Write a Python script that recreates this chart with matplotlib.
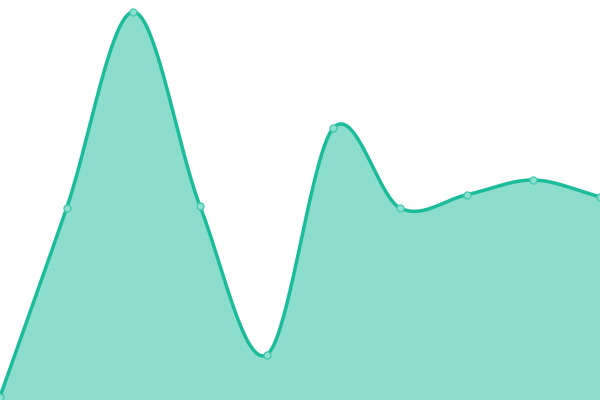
import numpy as np
import matplotlib
matplotlib.use("Agg")
import matplotlib.pyplot as plt

# values (0-100 scale)
x_idx = list(range(10))
values = [0.8, 48, 97, 48.5, 11.3, 68, 48, 51.3, 55, 50.8]

line_color = "#1abc9c"


def catmull_rom(xs, ys, n=40):
    xs = np.asarray(xs, float)
    ys = np.asarray(ys, float)
    # tangents: central differences, one-sided at the ends
    m = np.zeros_like(ys)
    m[1:-1] = (ys[2:] - ys[:-2]) / 2
    m[0] = ys[1] - ys[0]
    m[-1] = ys[-1] - ys[-2]
    out_x, out_y = [], []
    for i in range(len(xs) - 1):
        t = np.linspace(0, 1, n, endpoint=False)
        h00 = 2 * t**3 - 3 * t**2 + 1
        h10 = t**3 - 2 * t**2 + t
        h01 = -2 * t**3 + 3 * t**2
        h11 = t**3 - t**2
        out_x.append(xs[i] + t * (xs[i + 1] - xs[i]))
        out_y.append(h00 * ys[i] + h10 * m[i] + h01 * ys[i + 1] + h11 * m[i + 1])
    out_x.append([xs[-1]])
    out_y.append([ys[-1]])
    return np.concatenate(out_x), np.concatenate(out_y)


sx, sy = catmull_rom(x_idx, values)

fig = plt.figure(figsize=(6, 4), dpi=100)
ax = fig.add_axes([0, 0, 1, 1])
ax.fill_between(sx, sy, 0, color=line_color, alpha=0.5, linewidth=0)
ax.plot(sx, sy, color=line_color, linewidth=2.5, solid_capstyle="round")
ax.plot(x_idx, values, linestyle="none", marker="o", markersize=5,
        markerfacecolor="#8de0cf", markeredgecolor="#48c9b0", markeredgewidth=1)

ax.set_xlim(0, 9)
ax.set_ylim(0, 100)
ax.axis("off")

fig.savefig("out.png", dpi=100)
